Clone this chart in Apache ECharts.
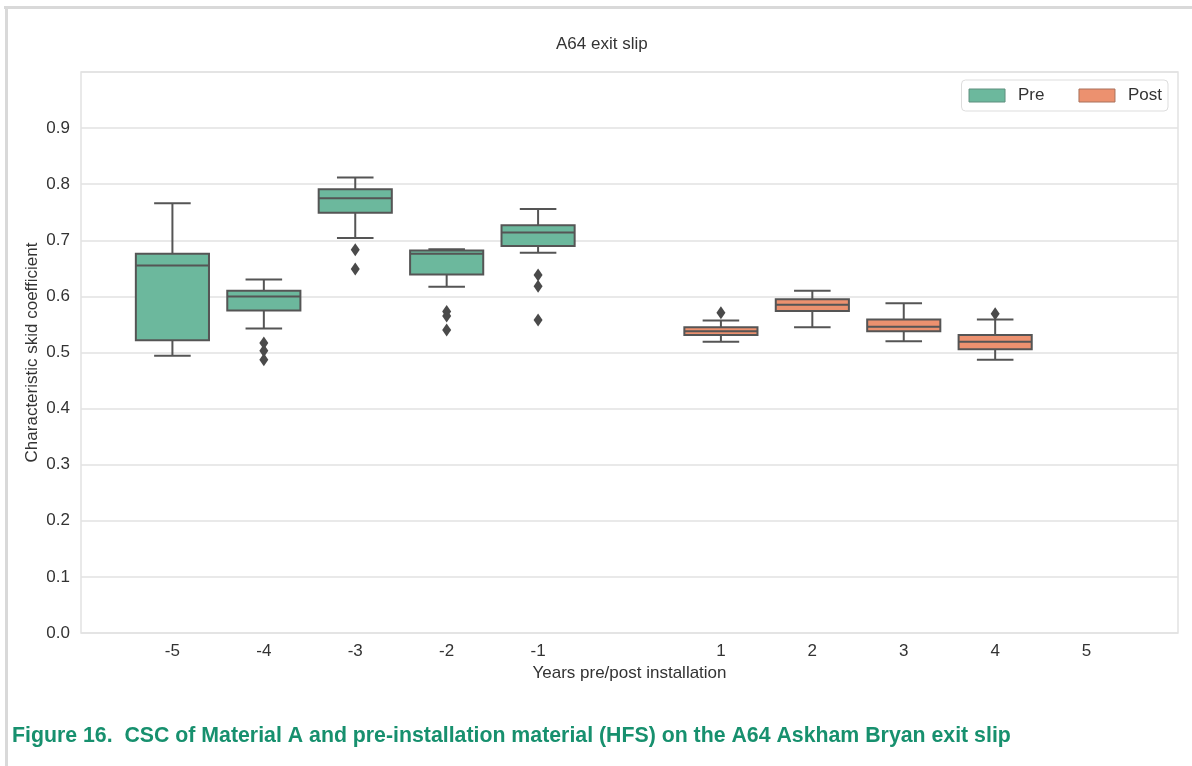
<!DOCTYPE html>
<html>
<head>
<meta charset="utf-8">
<script src="https://cdn.jsdelivr.net/npm/echarts@6/dist/echarts.min.js"></script>
<style>
html,body{margin:0;padding:0;background:#fff;}
#chart{width:1192px;height:766px;}
</style>
</head>
<body>
<div id="chart"></div>
<script>
// ---- data ----
const xTickLabels = [-5, -4, -3, -2, -1, 1, 2, 3, 4, 5];
const yTickLabels = [0.0, 0.1, 0.2, 0.3, 0.4, 0.5, 0.6, 0.7, 0.8, 0.9];

// [year, min(whisker), Q1, median, Q3, max(whisker)]
const preYears = [-5, -4, -3, -2, -1];
const preMin    = [0.494, 0.543, 0.704, 0.617, 0.678];
const preQ1     = [0.522, 0.575, 0.749, 0.639, 0.690];
const preMedian = [0.655, 0.600, 0.775, 0.676, 0.714];
const preQ3     = [0.676, 0.610, 0.791, 0.682, 0.727];
const preMax    = [0.766, 0.630, 0.812, 0.684, 0.756];

const postYears = [1, 2, 3, 4];
const postMin    = [0.519, 0.545, 0.520, 0.487];
const postQ1     = [0.531, 0.574, 0.538, 0.506];
const postMedian = [0.538, 0.585, 0.546, 0.519];
const postQ3     = [0.545, 0.595, 0.559, 0.531];
const postMax    = [0.557, 0.610, 0.588, 0.559];

const outlierYears  = [-4, -4, -4, -3, -3, -2, -2, -2, -1, -1, -1, 1, 4];
const outlierValues = [0.517, 0.503, 0.487, 0.683, 0.649, 0.573, 0.565, 0.540, 0.638, 0.618, 0.558, 0.571, 0.569];

const titleText = 'A64 exit slip';
const captionText = 'Figure 16.  CSC of Material A and pre-installation material (HFS) on the A64 Askham Bryan exit slip';

// ---- build ----
const PRE_COLOR = '#6cb89d';
const POST_COLOR = '#ec916f';
const EDGE = '#555555';
const FONT = '"Liberation Sans", Arial, sans-serif';

function rows(years, mn, q1, md, q3, mx) {
  return years.map((y, i) => [y, mn[i], q1[i], md[i], q3[i], mx[i]]);
}
const preData = rows(preYears, preMin, preQ1, preMedian, preQ3, preMax);
const postData = rows(postYears, postMin, postQ1, postMedian, postQ3, postMax);
const outlierData = outlierYears.map((y, i) => [y, outlierValues[i]]);

function renderBox(params, api) {
  const x = api.value(0);
  const pMin = api.coord([x, api.value(1)]);
  const pQ1 = api.coord([x, api.value(2)]);
  const pMed = api.coord([x, api.value(3)]);
  const pQ3 = api.coord([x, api.value(4)]);
  const pMax = api.coord([x, api.value(5)]);
  const bw = api.size([0.8, 0])[0];
  const half = bw / 2, cap = bw / 4;
  const px = pMed[0];
  const ls = {stroke: EDGE, lineWidth: 2};
  return {
    type: 'group',
    children: [
      {type: 'line', shape: {x1: px, y1: pMin[1], x2: px, y2: pQ1[1]}, style: ls},
      {type: 'line', shape: {x1: px, y1: pQ3[1], x2: px, y2: pMax[1]}, style: ls},
      {type: 'line', shape: {x1: px - cap, y1: pMin[1], x2: px + cap, y2: pMin[1]}, style: ls},
      {type: 'line', shape: {x1: px - cap, y1: pMax[1], x2: px + cap, y2: pMax[1]}, style: ls},
      {type: 'rect', shape: {x: px - half, y: pQ3[1], width: bw, height: pQ1[1] - pQ3[1]},
       style: {fill: api.visual('color'), stroke: EDGE, lineWidth: 2}},
      {type: 'line', shape: {x1: px - half, y1: pMed[1], x2: px + half, y2: pMed[1]}, style: ls}
    ]
  };
}

const chart = echarts.init(document.getElementById('chart'), null, {renderer: 'canvas'});
chart.setOption({
  backgroundColor: '#ffffff',
  animation: false,
  textStyle: {fontFamily: FONT},
  title: [
    {text: titleText, left: 551, top: 31,
     textStyle: {fontFamily: FONT, fontSize: 17, fontWeight: 'normal', color: '#333'}},
    {text: captionText, left: 7, top: 721,
     textStyle: {fontFamily: FONT, fontSize: 21.3, fontWeight: 'bold', color: '#17906e'}}
  ],
  graphic: [
    {type: 'line', shape: {x1: 4, y1: 7.5, x2: 1192, y2: 7.5}, style: {stroke: '#d9d9d9', lineWidth: 3}, silent: true},
    {type: 'line', shape: {x1: 6.5, y1: 6, x2: 6.5, y2: 766}, style: {stroke: '#d9d9d9', lineWidth: 3}, silent: true}
  ],
  legend: {
    data: [
      {name: 'Pre', icon: 'rect', itemStyle: {color: PRE_COLOR, borderColor: '#5f8f7e', borderWidth: 1}},
      {name: 'Post', icon: 'rect', itemStyle: {color: POST_COLOR, borderColor: '#a9715c', borderWidth: 1}}
    ],
    right: 24, top: 80,
    itemWidth: 36, itemHeight: 13, itemGap: 34,
    padding: [7, 6, 7, 7],
    borderColor: '#dddddd', borderWidth: 1, borderRadius: 4,
    textStyle: {fontFamily: FONT, fontSize: 17, color: '#333', padding: [0, 0, 0, 8]}
  },
  grid: {left: 81, right: 14, top: 72, bottom: 133, show: true, borderColor: '#e2e2e2', borderWidth: 1.5, containLabel: false},
  xAxis: {
    type: 'value', min: -6, max: 6, interval: 1,
    name: 'Years pre/post installation', nameLocation: 'middle', nameGap: 30,
    nameTextStyle: {fontFamily: FONT, fontSize: 17, color: '#333'},
    axisLine: {show: false}, axisTick: {show: false}, splitLine: {show: false},
    axisLabel: {fontFamily: FONT, fontSize: 17, color: '#333', margin: 10,
      formatter: v => xTickLabels.indexOf(v) >= 0 ? String(v) : ''}
  },
  yAxis: {
    type: 'value', min: 0, max: 1, interval: 0.1,
    name: 'Characteristic skid coefficient', nameLocation: 'middle', nameGap: 40,
    nameMoveOverlap: false,
    nameTextStyle: {fontFamily: FONT, fontSize: 17, color: '#333'},
    axisLine: {show: false}, axisTick: {show: false},
    splitLine: {show: true, lineStyle: {color: '#e2e2e2', width: 1.5}},
    axisLabel: {fontFamily: FONT, fontSize: 17, color: '#333', margin: 11,
      formatter: v => {
        const r = Math.round(v * 10) / 10;
        return yTickLabels.indexOf(r) >= 0 ? r.toFixed(1) : '';
      }}
  },
  series: [
    {name: 'Pre', type: 'custom', renderItem: renderBox, data: preData,
     itemStyle: {color: PRE_COLOR}, encode: {x: 0, y: [1, 2, 3, 4, 5]}, z: 2},
    {name: 'Post', type: 'custom', renderItem: renderBox, data: postData,
     itemStyle: {color: POST_COLOR}, encode: {x: 0, y: [1, 2, 3, 4, 5]}, z: 2},
    {name: 'outliers', type: 'scatter', data: outlierData, symbol: 'diamond', symbolSize: [9, 13],
     itemStyle: {color: '#4a4a4a', opacity: 1}, z: 3}
  ]
});
</script>
</body>
</html>
